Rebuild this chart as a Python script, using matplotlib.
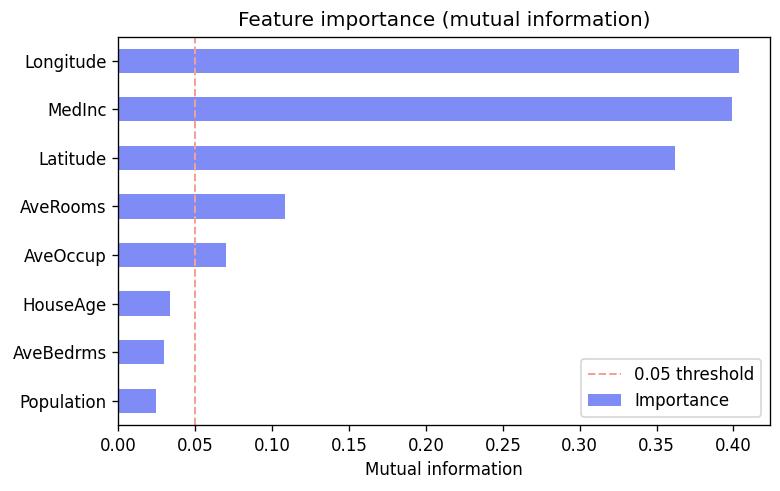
import numpy as np
import matplotlib
matplotlib.use('Agg')
import matplotlib.pyplot as plt

features = ['Population', 'AveBedrms', 'HouseAge', 'AveOccup',
            'AveRooms', 'Latitude', 'MedInc', 'Longitude']
importance = [0.0241, 0.0299, 0.0332, 0.0702, 0.108, 0.3623, 0.3993, 0.4033]
threshold = 0.05

fig, ax = plt.subplots(figsize=(6.5, 491 / 120), dpi=120)
fig.subplots_adjust(left=118.5 / 780, right=769.5 / 780,
                    top=1 - 36.5 / 491, bottom=1 - 425 / 491)

y = np.arange(len(features))
ax.barh(y, importance, height=0.5, color='#808cf6', label='Importance')
ax.axvline(threshold, color='#f5a096', linestyle='--', linewidth=1.2,
           label='0.05 threshold')

ax.set_yticks(y)
ax.set_yticklabels(features)
ax.set_ylim(-0.5, len(features) - 0.5)
ax.set_title('Feature importance (mutual information)')
ax.set_xlabel('Mutual information')
ax.legend(loc='lower right')

fig.savefig('out.png', dpi=120)
